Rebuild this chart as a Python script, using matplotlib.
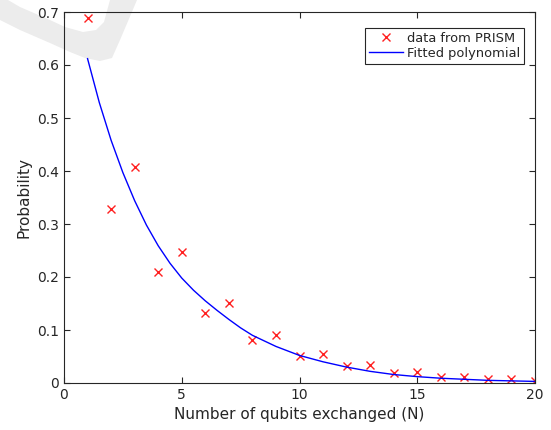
import numpy as np
import matplotlib
matplotlib.use('Agg')
import matplotlib.pyplot as plt
from matplotlib.patches import Polygon

# data points
n_qubits = [1, 2, 3, 4, 5, 6, 7, 8, 9, 10, 11, 12, 13, 14, 15, 16, 17, 18, 19, 20]
prob = [0.688, 0.328, 0.407, 0.209, 0.247, 0.132, 0.151, 0.081, 0.091, 0.051,
        0.055, 0.032, 0.034, 0.019, 0.021, 0.011, 0.011, 0.007, 0.007, 0.004]

# fitted curve, read at a few positions
fit_x = [1, 1.5, 2, 2.5, 3, 3.5, 4, 4.5, 5, 5.5, 6, 6.5, 7, 7.5, 8, 9, 10,
         11, 12, 13, 14, 15, 16, 17, 18, 19, 20]
fit_y = [0.612, 0.529, 0.458, 0.397, 0.344, 0.298, 0.259, 0.226, 0.198, 0.175,
         0.155, 0.137, 0.120, 0.104, 0.090, 0.069, 0.052, 0.040, 0.030, 0.022,
         0.016, 0.012, 0.009, 0.007, 0.005, 0.004, 0.003]

W, H = 551, 430
fig = plt.figure(figsize=(W / 100, H / 100), dpi=100)
fig.patch.set_facecolor('white')

# light grey watermark band in the top-left corner (pixel coords -> figure fraction)
band = [(0, 0), (0, 20), (20, 30), (50, 43), (70, 52), (85, 58), (100, 61),
        (112, 58), (120, 40), (137, 0),
        (110, 0), (104, 22), (96, 30), (83, 32), (65, 27), (50, 20), (20, 7), (8, 0)]
band = [(x / W, 1 - y / H) for x, y in band]
fig.patches.append(Polygon(band, closed=True, transform=fig.transFigure,
                           facecolor='#ececec', edgecolor='none', zorder=-1))

ax = fig.add_axes([64 / W, 1 - 383 / H, (535 - 64) / W, (383 - 12) / H])
ax.set_facecolor('none')

ax.plot(n_qubits, prob, 'x', color='#ff2020', markersize=6, markeredgewidth=1.0,
        label='data from PRISM')
ax.plot(fit_x, fit_y, '-', color='#0000ff', linewidth=1.0, label='Fitted polynomial')

ax.set_xlim(0, 20)
ax.set_ylim(0, 0.7)
ax.set_xticks([0, 5, 10, 15, 20])
ax.set_yticks(np.arange(0, 0.71, 0.1))
ax.set_yticklabels(['0', '0.1', '0.2', '0.3', '0.4', '0.5', '0.6', '0.7'])

ax.tick_params(direction='in', top=True, right=True, length=4, width=0.8,
               colors='#262626', labelsize=10)
for s in ax.spines.values():
    s.set_color('#262626')
    s.set_linewidth(0.8)

ax.set_xlabel('Number of qubits exchanged (N)', fontsize=11, color='#262626')
ax.set_ylabel('Probability', fontsize=11, color='#262626')

leg = ax.legend(loc='upper right', fontsize=9.4, frameon=True, fancybox=False,
                edgecolor='#262626', framealpha=1, borderpad=0.3,
                handlelength=2.6, handletextpad=0.3, labelspacing=0.15,
                borderaxespad=0.0, bbox_to_anchor=(0.976, 0.957))
leg.get_frame().set_linewidth(0.8)
for t in leg.get_texts():
    t.set_color('#262626')

fig.savefig('out.png', dpi=100)
